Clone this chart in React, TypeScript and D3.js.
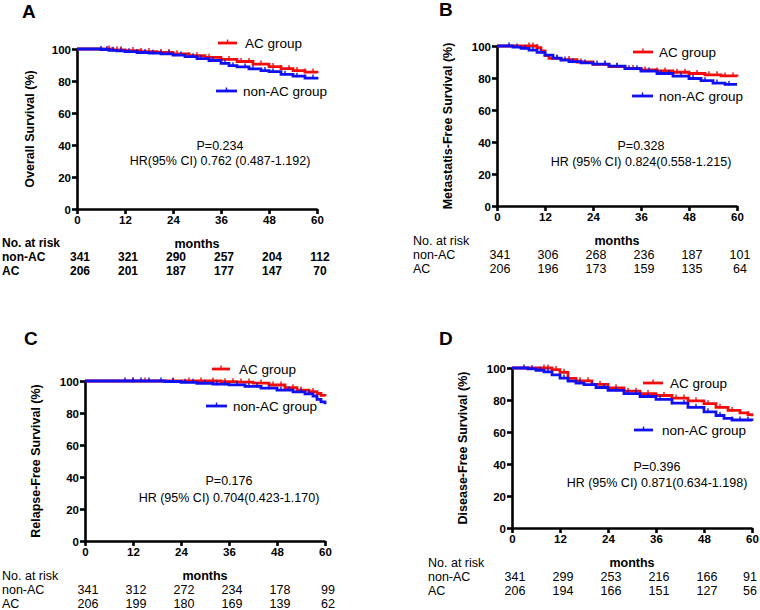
import React, { useEffect, useRef } from 'react';
import * as d3 from 'd3';

type Pt = [number, number];

const monthTicks = [0, 12, 24, 36, 48, 60];
const survTicks = [0, 20, 40, 60, 80, 100];

// A: overall survival
const osNonAC: Pt[] = [[0, 100], [5, 100], [6, 99.7], [8, 99.2], [10, 98.8], [12, 98.3], [15, 97.8], [18, 97.4], [21, 97], [24, 96.2], [27, 95.2], [30, 94], [33, 92.8], [36, 91], [38, 89.6], [40, 88.8], [43, 87.6], [46, 86.5], [48, 85.8], [51, 84.2], [54, 83], [57, 81.8], [60, 81]];
const osAC: Pt[] = [[0, 100], [7, 100], [9, 99.5], [12, 99], [16, 98.4], [20, 97.8], [24, 97], [28, 95.8], [32, 94.8], [36, 93.5], [40, 92.2], [44, 90.6], [48, 89], [51, 87.7], [54, 86.5], [57, 85.6], [60, 84.8]];
const osCensNonAC = [6, 7.5, 9, 11, 13, 15, 17, 19, 21, 23, 26, 29, 31, 34, 37, 39, 42, 44, 47, 49, 52, 55, 57, 59];
const osCensAC = [8, 10, 11, 14, 16, 18, 21, 23, 25, 28, 30, 33, 36, 38, 41, 43, 46, 49, 51, 53, 55, 57, 59];
const osRiskNonAC = [341, 321, 290, 257, 204, 112];
const osRiskAC = [206, 201, 187, 177, 147, 70];

// B: metastasis-free survival
const mfsNonAC: Pt[] = [[0, 100], [2, 100], [4, 99.3], [6, 98.5], [8, 97.4], [10, 96], [12, 94.3], [14, 92.4], [16, 91.2], [18, 90.2], [21, 89.4], [24, 88.7], [28, 87.4], [32, 85.8], [36, 84.3], [40, 82.8], [44, 81.2], [48, 79.7], [51, 78.3], [54, 76.8], [57, 76], [60, 76]];
const mfsAC: Pt[] = [[0, 100], [8, 100], [10, 99], [11, 97], [12, 94], [13, 92.3], [16, 91.5], [20, 90], [24, 88.5], [28, 87.2], [32, 86], [36, 85], [40, 84.4], [44, 83.6], [48, 82.8], [52, 82], [56, 81.3], [60, 81]];
const mfsCensNonAC = [3, 5, 7, 9, 11, 15, 17, 19, 22, 25, 27, 30, 33, 35, 38, 41, 43, 46, 49, 52, 55, 58];
const mfsCensAC = [8, 9, 10, 15, 18, 21, 24, 27, 30, 34, 37, 40, 42, 45, 47, 50, 53, 55, 57, 59];
const mfsRiskNonAC = [341, 306, 268, 236, 187, 101];
const mfsRiskAC = [206, 196, 173, 159, 135, 64];

// C: relapse-free survival
const rfsNonAC: Pt[] = [[0, 100], [18, 100], [20, 99.7], [24, 99.2], [28, 98.6], [32, 98], [36, 97.6], [40, 96.6], [44, 95.5], [48, 94.3], [52, 93.2], [55, 92], [57, 90.5], [58, 88.5], [59, 87], [60, 85.5]];
const rfsAC: Pt[] = [[0, 100], [30, 100], [34, 99.6], [38, 99.3], [42, 98.7], [46, 97.5], [50, 95.8], [53, 94.3], [56, 93.4], [58, 92.2], [59, 91], [60, 90.5]];
const rfsCensNonAC = [10, 12, 14, 16, 19, 22, 25, 27, 30, 33, 35, 38, 41, 43, 46, 49, 51, 54, 56, 58];
const rfsCensAC = [12, 15, 22, 26, 29, 32, 35, 37, 39, 41, 44, 47, 49, 52, 54, 57, 59];
const rfsRiskNonAC = [341, 312, 272, 234, 178, 99];
const rfsRiskAC = [206, 199, 180, 169, 139, 62];

// D: disease-free survival
const dfsNonAC: Pt[] = [[0, 100], [2, 100], [4, 99.5], [6, 98.6], [8, 97.6], [10, 95.7], [12, 93.7], [14, 91.8], [16, 90.6], [18, 89.6], [21, 87.8], [24, 86], [28, 84], [32, 82.2], [36, 80.4], [40, 78], [44, 75.4], [48, 72.6], [51, 70.3], [53, 68.5], [55, 67.5], [60, 66.8]];
const dfsAC: Pt[] = [[0, 100], [8, 100], [10, 99], [12, 97.3], [14, 93.5], [16, 92], [20, 89.8], [24, 87.6], [28, 85.5], [32, 84], [36, 82.8], [40, 81.2], [44, 79.5], [48, 77.7], [51, 75.4], [54, 73.5], [57, 72], [59, 70.8], [60, 69.8]];
const dfsCensNonAC = [3, 5, 7, 9, 13, 17, 20, 23, 26, 29, 31, 34, 37, 40, 43, 46, 49, 52, 55, 57, 59];
const dfsCensAC = [8, 9, 11, 13, 17, 19, 22, 26, 29, 31, 34, 38, 41, 43, 46, 49, 52, 55, 57, 59];
const dfsRiskNonAC = [341, 299, 253, 216, 166, 91];
const dfsRiskAC = [206, 194, 166, 151, 127, 56];

const RED = '#f20d0d';
const BLUE = '#1010f0';
const FONT = '"Liberation Sans", Arial, Helvetica, sans-serif';

const panels = [
  {
    letter: 'A', title: 'Overall Survival (%)', nonAC: osNonAC, ac: osAC, censNonAC: osCensNonAC, censAC: osCensAC,
    riskNonAC: osRiskNonAC, riskAC: osRiskAC, p: 'P=0.234', hr: 'HR(95% CI) 0.762 (0.487-1.192)',
    x0: 77, yTop: 49, letterX: 22, letterY: 18, rowX: 2, boldTable: true, titleX: 29,
    legRed: [218, 237, 43, 245], legBlue: [216, 237, 91, 243], statX: 220, pY: 150, hrY: 165,
  },
  {
    letter: 'B', title: 'Metastatis-Free Survival (%)', nonAC: mfsNonAC, ac: mfsAC, censNonAC: mfsCensNonAC, censAC: mfsCensAC,
    riskNonAC: mfsRiskNonAC, riskAC: mfsRiskAC, p: 'P=0.328', hr: 'HR (95% CI) 0.824(0.558-1.215)',
    x0: 497, yTop: 46, letterX: 439, letterY: 16, rowX: 413, boldTable: false, titleX: 447,
    legRed: [633, 653, 52, 659], legBlue: [632, 653, 96, 659], statX: 641, pY: 150, hrY: 166,
  },
  {
    letter: 'C', title: 'Relapse-Free Survival (%)', nonAC: rfsNonAC, ac: rfsAC, censNonAC: rfsCensNonAC, censAC: rfsCensAC,
    riskNonAC: rfsRiskNonAC, riskAC: rfsRiskAC, p: 'P=0.176', hr: 'HR (95% CI) 0.704(0.423-1.170)',
    x0: 85, yTop: 381, letterX: 24, letterY: 345, rowX: 2, boldTable: false, titleX: 35,
    legRed: [212, 230, 369, 239], legBlue: [206, 227, 406, 233], statX: 229, pY: 485, hrY: 502,
  },
  {
    letter: 'D', title: 'Disease-Free Survival (%)', nonAC: dfsNonAC, ac: dfsAC, censNonAC: dfsCensNonAC, censAC: dfsCensAC,
    riskNonAC: dfsRiskNonAC, riskAC: dfsRiskAC, p: 'P=0.396', hr: 'HR (95% CI) 0.871(0.634-1.198)',
    x0: 512, yTop: 368, letterX: 439, letterY: 345, rowX: 428, boldTable: false, titleX: 462,
    legRed: [643, 663, 383, 670], legBlue: [634, 653, 430, 662], statX: 657, pY: 471, hrY: 487,
  },
];

const W = 240;
const H = 160;

function survAt(curve: Pt[], t: number) {
  let s = curve[0][1];
  for (const [ct, cs] of curve) {
    if (ct <= t) s = cs;
  }
  return s;
}

export default function App() {
  const svgRef = useRef<SVGSVGElement>(null);

  useEffect(() => {
    if (!svgRef.current) return;
    const svg = d3.select(svgRef.current);
    svg.selectAll('*').remove();

    panels.forEach(pnl => {
      const x = d3.scaleLinear().domain([0, 60]).range([pnl.x0, pnl.x0 + W]);
      const y = d3.scaleLinear().domain([0, 100]).range([pnl.yTop + H, pnl.yTop]);
      const y0 = pnl.yTop + H;

      svg.append('text')
        .attr('x', pnl.letterX).attr('y', pnl.letterY)
        .attr('font-family', FONT).attr('font-weight', 'bold').attr('font-size', 19)
        .text(pnl.letter);

      // axes
      const ax = svg.append('g').attr('transform', `translate(0,${y0})`)
        .call(d3.axisBottom(x).tickValues(monthTicks).tickSize(5).tickSizeOuter(0).tickPadding(2));
      const ay = svg.append('g').attr('transform', `translate(${pnl.x0},0)`)
        .call(d3.axisLeft(y).tickValues(survTicks).tickSize(5).tickSizeOuter(0).tickPadding(1));
      [ax, ay].forEach(g => {
        g.selectAll('path,line').attr('stroke', '#000').attr('stroke-width', 2.6);
        g.selectAll('text').attr('font-family', FONT).attr('font-weight', 'bold').attr('font-size', 11.5).attr('fill', '#000');
      });
      ay.selectAll('text').attr('dy', '0.36em');

      svg.append('text')
        .attr('transform', `translate(${pnl.titleX},${pnl.yTop + H / 2}) rotate(-90)`)
        .attr('text-anchor', 'middle').attr('dy', '0.36em')
        .attr('font-family', FONT).attr('font-weight', 'bold').attr('font-size', 12.5)
        .text(pnl.title);

      // curves
      const line = d3.line<Pt>().x(d => x(d[0])).y(d => y(d[1])).curve(d3.curveStepAfter);
      const series = [
        { data: pnl.ac, cens: pnl.censAC, color: RED },
        { data: pnl.nonAC, cens: pnl.censNonAC, color: BLUE },
      ];
      series.forEach(s => {
        svg.append('path').attr('d', line(s.data)).attr('fill', 'none')
          .attr('stroke', s.color).attr('stroke-width', 2.8);
        svg.append('g').selectAll('line').data(s.cens).join('line')
          .attr('x1', d => x(d)).attr('x2', d => x(d))
          .attr('y1', d => y(survAt(s.data, d)) - 3.5)
          .attr('y2', d => y(survAt(s.data, d)) + 1)
          .attr('stroke', s.color).attr('stroke-width', 1.4);
      });

      // legend
      [{ l: pnl.legRed, c: RED, t: 'AC group' }, { l: pnl.legBlue, c: BLUE, t: 'non-AC group' }].forEach(g => {
        const [lx1, lx2, ly, tx] = g.l;
        svg.append('line').attr('x1', lx1).attr('x2', lx2).attr('y1', ly).attr('y2', ly)
          .attr('stroke', g.c).attr('stroke-width', 2.8);
        svg.append('line').attr('x1', (lx1 + lx2) / 2).attr('x2', (lx1 + lx2) / 2)
          .attr('y1', ly - 3.5).attr('y2', ly + 1).attr('stroke', g.c).attr('stroke-width', 1.4);
        svg.append('text').attr('x', tx).attr('y', ly).attr('dy', '0.36em')
          .attr('font-family', FONT).attr('font-size', 13.5).text(g.t);
      });

      // stats
      svg.append('text').attr('x', pnl.statX).attr('y', pnl.pY).attr('text-anchor', 'middle')
        .attr('font-family', FONT).attr('font-size', 12.5).text(pnl.p);
      svg.append('text').attr('x', pnl.statX).attr('y', pnl.hrY).attr('text-anchor', 'middle')
        .attr('font-family', FONT).attr('font-size', 12.5).text(pnl.hr);

      // risk table
      const weight = pnl.boldTable ? 'bold' : 'normal';
      const tSize = pnl.boldTable ? 12 : 12.5;
      const rowY = [y0 + 34, y0 + 48, y0 + 62];
      svg.append('text').attr('x', pnl.x0 + W / 2).attr('y', rowY[0]).attr('dy', '0.36em')
        .attr('text-anchor', 'middle').attr('font-family', FONT).attr('font-weight', 'bold')
        .attr('font-size', 12.5).text('months');
      ['No. at risk', 'non-AC', 'AC'].forEach((lbl, i) => {
        svg.append('text').attr('x', pnl.rowX).attr('y', rowY[i]).attr('dy', '0.36em')
          .attr('font-family', FONT).attr('font-weight', weight).attr('font-size', tSize).text(lbl);
      });
      [pnl.riskNonAC, pnl.riskAC].forEach((row, r) => {
        svg.append('g').selectAll('text').data(row).join('text')
          .attr('x', (_d, i) => Math.min(x(monthTicks[i]) + 3, 750)).attr('y', rowY[r + 1]).attr('dy', '0.36em')
          .attr('text-anchor', 'middle').attr('font-family', FONT).attr('font-weight', weight)
          .attr('font-size', tSize).text(d => d);
      });
    });
  }, []);

  return (
    <svg
      ref={svgRef}
      width={760}
      height={610}
      style={{ position: 'absolute', left: 0, top: 0, background: '#fff' }}
    />
  );
}
